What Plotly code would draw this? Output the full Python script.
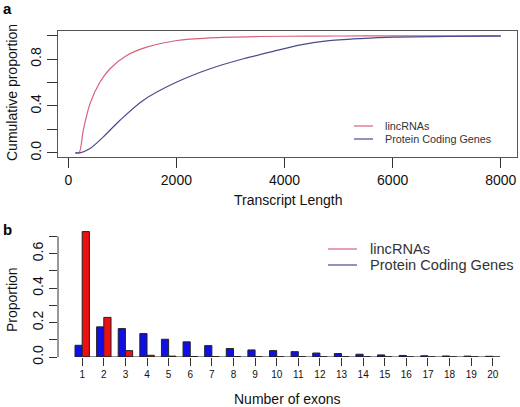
import plotly.graph_objects as go

# ---- Panel a: cumulative proportion vs transcript length ----
linc_len = [130, 200, 278, 402, 587, 772, 1081, 1451, 2007, 2624, 3550, 4500, 5500, 6500, 8000]
linc_cum = [0.0, 0.0, 0.193, 0.42, 0.604, 0.718, 0.831, 0.902, 0.959, 0.982, 0.993, 0.996, 0.998, 0.999, 1.0]

pcg_len = [130, 215, 402, 648, 957, 1389, 2007, 2624, 3241, 3859, 4300, 4784, 5400, 6018, 7000, 8000]
pcg_cum = [0.0, 0.0, 0.037, 0.136, 0.278, 0.449, 0.604, 0.718, 0.803, 0.874, 0.922, 0.955, 0.975, 0.988, 0.993, 0.996]

# ---- Panel b: proportion by number of exons ----
exons = list(range(1, 21))
linc_prop = [0.728, 0.23, 0.037, 0.01, 0.005, 0.003, 0.002, 0.002, 0.001, 0.001,
             0.001, 0.001, 0.001, 0.0008, 0.0006, 0.0005, 0.0004, 0.0003, 0.0003, 0.0002]
pcg_prop = [0.068, 0.175, 0.165, 0.136, 0.103, 0.088, 0.066, 0.049, 0.041, 0.037,
            0.031, 0.023, 0.02, 0.016, 0.012, 0.009, 0.007, 0.006, 0.005, 0.004]

series_names = ["lincRNAs", "Protein Coding Genes"]
x_ticks_a = [0, 2000, 4000, 6000, 8000]

RED_LINE = "#d9607a"
BLUE_LINE = "#4a4a8e"
FONT = "Liberation Sans, Arial, Helvetica, sans-serif"

fig = go.Figure()

fig.add_trace(go.Scatter(x=linc_len, y=linc_cum, mode="lines", line=dict(color=RED_LINE, width=1.2, shape="spline", smoothing=0.8),
                         xaxis="x", yaxis="y", showlegend=False))
fig.add_trace(go.Scatter(x=pcg_len, y=pcg_cum, mode="lines", line=dict(color=BLUE_LINE, width=1.2, shape="spline", smoothing=0.8),
                         xaxis="x", yaxis="y", showlegend=False))

fig.add_trace(go.Bar(x=exons, y=pcg_prop, marker=dict(color="#1010e6", line=dict(color="#222222", width=1)),
                     xaxis="x2", yaxis="y2", showlegend=False))
fig.add_trace(go.Bar(x=exons, y=linc_prop, marker=dict(color="#ee1010", line=dict(color="#222222", width=1)),
                     xaxis="x2", yaxis="y2", showlegend=False))

axis_common = dict(ticks="outside", tickcolor="#333333", tickfont=dict(family=FONT, size=14, color="#111111"),
                   showgrid=False, zeroline=False)

fig.update_layout(
    width=520, height=407,
    margin=dict(l=58, r=3, t=31, b=50),
    paper_bgcolor="white", plot_bgcolor="white",
    font=dict(family=FONT, color="#111111"),
    barmode="group", bargap=1/3, bargroupgap=0,
    xaxis=dict(domain=[0, 1], range=[-190, 8300], tickvals=x_ticks_a, ticklen=10,
               showline=True, linecolor="#555555", linewidth=1, mirror=True, anchor="y", **axis_common),
    yaxis=dict(domain=[0.612, 1], range=[-0.04, 1.04], tickvals=[0, 0.2, 0.4, 0.6, 0.8, 1.0],
               ticktext=["0.0", "", "0.4", "", "0.8", ""], tickangle=-90, ticklen=10,
               showline=True, linecolor="#555555", linewidth=1, mirror=True, anchor="x", **axis_common),
    xaxis2=dict(domain=[0, 1], range=[-0.12, 21.12], tickvals=exons, ticklen=8, anchor="y2",
                showline=False, **{k: v for k, v in axis_common.items() if k != "tickfont"},
                tickfont=dict(family=FONT, size=10, color="#111111")),
    yaxis2=dict(domain=[0, 0.4], range=[0, 0.757], tickvals=[0, 0.1, 0.2, 0.3, 0.4, 0.5, 0.6, 0.7],
                ticktext=["0.0", "", "0.2", "", "0.4", "", "0.6", ""], tickangle=-90, ticklen=8,
                showline=False, anchor="x2", **axis_common),
)

shapes = [
    # y-axis line of panel b (from first to last tick)
    dict(type="line", xref="x2 domain", yref="y2", x0=0, x1=0, y0=0, y1=0.7, line=dict(color="#333333", width=1)),
    # x-axis line of panel b (from first to last tick)
    dict(type="line", xref="x2", yref="y2", x0=1, x1=20, y0=0, y1=0, line=dict(color="#222222", width=1)),
]

def px_x(px):
    return (px - 58) / 459.0

def px_y(py):
    return (357 - py) / 326.0

legend_rows = [
    (354, 373, 383, 126, 10.8, RED_LINE, series_names[0]),
    (354, 373, 383, 139, 10.8, BLUE_LINE, series_names[1]),
    (328, 357, 368, 249, 14.6, RED_LINE, series_names[0]),
    (328, 357, 368, 265, 14.6, BLUE_LINE, series_names[1]),
]
annotations = []
for x0, x1, xt, yy, fs, col, name in legend_rows:
    shapes.append(dict(type="line", xref="paper", yref="paper", x0=px_x(x0), x1=px_x(x1), y0=px_y(yy), y1=px_y(yy),
                       line=dict(color=col, width=1.2)))
    annotations.append(dict(xref="paper", yref="paper", x=px_x(xt), y=px_y(yy), text=name, showarrow=False,
                            xanchor="left", yanchor="middle", font=dict(family=FONT, size=fs, color="#333333")))

annotations += [
    dict(xref="paper", yref="paper", x=px_x(287.5), y=px_y(200), text="Transcript Length", showarrow=False,
         xanchor="center", yanchor="middle", font=dict(family=FONT, size=14, color="#111111")),
    dict(xref="paper", yref="paper", x=px_x(12), y=px_y(93), text="Cumulative proportion", showarrow=False,
         textangle=-90, xanchor="center", yanchor="middle", font=dict(family=FONT, size=14, color="#111111")),
    dict(xref="paper", yref="paper", x=px_x(287.5), y=px_y(399), text="Number of exons", showarrow=False,
         xanchor="center", yanchor="middle", font=dict(family=FONT, size=14, color="#111111")),
    dict(xref="paper", yref="paper", x=px_x(12), y=px_y(300), text="Proportion", showarrow=False,
         textangle=-90, xanchor="center", yanchor="middle", font=dict(family=FONT, size=14, color="#111111")),
    dict(xref="paper", yref="paper", x=px_x(7), y=px_y(9), text="<b>a</b>", showarrow=False,
         xanchor="center", yanchor="middle", font=dict(family=FONT, size=15, color="#000000")),
    dict(xref="paper", yref="paper", x=px_x(7), y=px_y(229), text="<b>b</b>", showarrow=False,
         xanchor="center", yanchor="middle", font=dict(family=FONT, size=15, color="#000000")),
]

fig.update_layout(shapes=shapes, annotations=annotations)
fig.write_html("out.html", config={"displayModeBar": False},
               post_script="document.body.style.margin='0';document.body.style.padding='0';")
